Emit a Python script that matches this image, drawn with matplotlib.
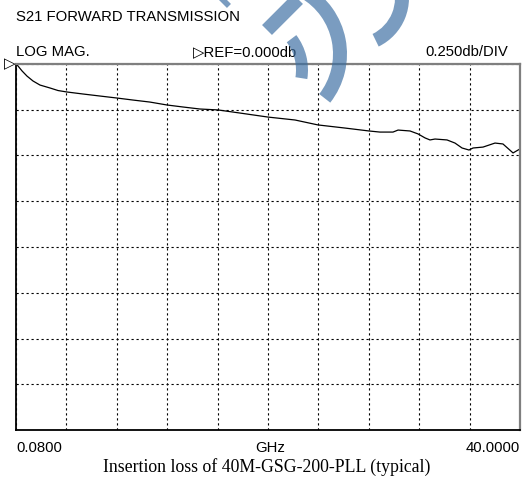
import numpy as np
import matplotlib
matplotlib.use("Agg")
import matplotlib.pyplot as plt
from matplotlib.patches import Wedge
from matplotlib.lines import Line2D
from matplotlib.transforms import IdentityTransform

W, H = 522, 478

# S21 trace (GHz, dB)
freq_ghz = [0.08, 0.24, 0.56, 0.95, 1.43, 1.98, 2.77, 3.41, 4.12, 5.39,
            6.73, 8.08, 9.35, 10.69, 12.04, 13.31, 14.65, 16.08, 17.82, 20.04,
            22.18, 24.00, 26.14, 28.04, 28.91, 29.94, 30.34, 31.29, 31.92, 32.48,
            32.87, 33.27, 34.22, 34.85, 35.41, 35.96, 36.28, 37.07, 38.02, 38.65,
            39.45, 40.00]
s21_db = [0.000, -0.011, -0.038, -0.066, -0.093, -0.115, -0.131, -0.145, -0.153, -0.164,
          -0.175, -0.186, -0.197, -0.208, -0.224, -0.235, -0.246, -0.251, -0.268, -0.290,
          -0.306, -0.333, -0.350, -0.366, -0.372, -0.372, -0.361, -0.366, -0.382, -0.404,
          -0.415, -0.410, -0.415, -0.432, -0.459, -0.470, -0.459, -0.454, -0.432, -0.437,
          -0.486, -0.464]

f_start, f_stop = 0.08, 40.0
ref_db = 0.0
db_per_div = 0.25
n_xdiv, n_ydiv = 10, 8

header = "S21 FORWARD TRANSMISSION"
fmt_label = "LOG MAG."
ref_label = "\u25b7REF=0.000db"
scale_label = "0.250db/DIV"
start_label = "0.0800"
unit_label = "GHz"
stop_label = "40.0000"
caption = "Insertion loss of 40M-GSG-200-PLL (typical)"


def px_text(fig, x, y, s, **kw):
    # x, y in image pixels, y measured from the top
    fig.text(x / W, 1 - y / H, s, **kw)


def add_watermark(fig):
    color = "#3b6ea2"
    alpha = 0.68
    wedges = [
        ((268, 54), 79, -38, 60, 14),
        ((250, 70), 58, -9, 37, 12),
        ((355, -2), 54, -64, 20, 14),
    ]
    for (cx, cy), r, t1, t2, w in wedges:
        fig.add_artist(Wedge((cx, H - cy), r, t1, t2, width=w, transform=IdentityTransform(),
                             facecolor=color, edgecolor="none", alpha=alpha, zorder=10))
    bands = [((267, 30), (305, -8)), ((222, 3), (240, -15))]
    for (x0, y0), (x1, y1) in bands:
        fig.add_artist(Line2D([x0, x1], [H - y0, H - y1], transform=IdentityTransform(),
                              color=color, alpha=alpha, lw=14 * 72 / 100,
                              solid_capstyle="butt", zorder=10))


fig = plt.figure(figsize=(W / 100, H / 100), dpi=100)
left, right, top, bottom = 16, 520, 64, 430
ax = fig.add_axes([left / W, 1 - bottom / H, (right - left) / W, (bottom - top) / H])

ax.plot(freq_ghz, s21_db, color="black", lw=0.9)

ax.set_xlim(f_start, f_stop)
ax.set_ylim(ref_db - n_ydiv * db_per_div, ref_db)
ax.set_xticks(np.linspace(f_start, f_stop, n_xdiv + 1))
ax.set_yticks(np.linspace(ref_db - n_ydiv * db_per_div, ref_db, n_ydiv + 1))
ax.tick_params(length=0, labelbottom=False, labelleft=False)
ax.grid(True, color="black", lw=0.8, linestyle=(0, (2, 2.5)))

ax.spines["top"].set_color("#7f7f7f")
ax.spines["top"].set_linewidth(1.6)
ax.spines["right"].set_color("#7f7f7f")
ax.spines["right"].set_linewidth(1.6)
ax.spines["left"].set_linewidth(1.3)
ax.spines["bottom"].set_linewidth(1.3)

# reference level marker at the left edge
ax.annotate("\u25b7", xy=(0, 1), xycoords="axes fraction", xytext=(0, 0),
            textcoords="offset points", ha="right", va="center", fontsize=11,
            family="DejaVu Sans", annotation_clip=False)

sans = dict(family=["Liberation Sans", "DejaVu Sans"], fontsize=10.7, va="baseline")
px_text(fig, 16, 21, header, ha="left", **sans)
px_text(fig, 16, 56, fmt_label, ha="left", **sans)
px_text(fig, 193, 56, ref_label, ha="left", **sans)
px_text(fig, 508, 56, scale_label, ha="right", **sans)
px_text(fig, 16, 452, start_label, ha="left", **sans)
px_text(fig, 270, 452, unit_label, ha="center", **sans)
px_text(fig, 520, 452, stop_label, ha="right", **sans)
px_text(fig, 267, 472, caption, ha="center", va="baseline",
        family="Liberation Serif", fontsize=12.8)

add_watermark(fig)

fig.savefig("out.png", dpi=100)
